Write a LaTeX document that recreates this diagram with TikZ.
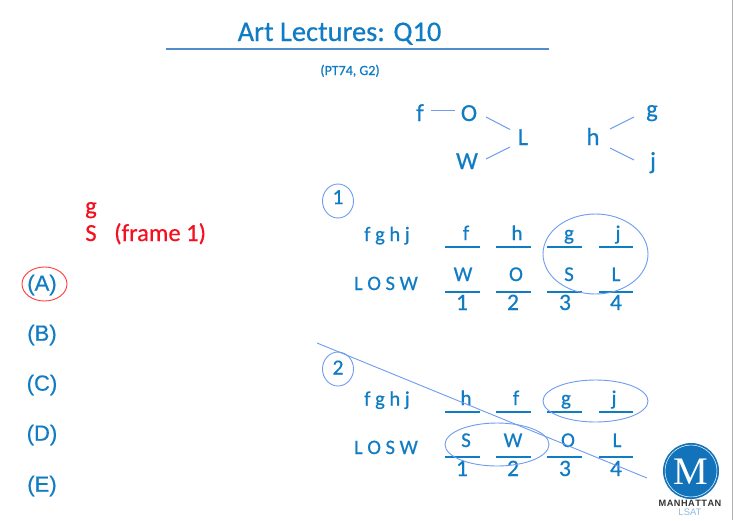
\documentclass[tikz,border=0pt]{standalone}
\usepackage{fontspec}
\setmainfont{Carlito}[RawFeature={embolden=0.5}]
\newfontfamily\arialf{Liberation Sans}[RawFeature={embolden=0.5}]
\newfontfamily\arialb{Liberation Sans}
\newfontfamily\serifl{Liberation Serif}
\definecolor{txtblue}{HTML}{0F7CC4}
\definecolor{linkblue}{HTML}{6E9CF0}
\definecolor{redtxt}{HTML}{F5101F}
\definecolor{logoblue}{HTML}{1273BA}
\definecolor{lsatblue}{HTML}{8FBCE0}
\tikzset{
  lab/.style={anchor=base,inner sep=0pt,text=txtblue,font=\fontsize{#1}{#1}\selectfont},
  lab/.default=21,
  tree/.style={anchor=base,inner sep=0pt,text=txtblue,text height=13pt,text depth=0pt,font=\fontsize{24.5}{24.5}\selectfont},
  nlab/.style={anchor=base,inner sep=0pt,text=txtblue,font=\fontsize{23.5}{23.5}\selectfont},
  roster/.style={anchor=base,inner sep=0pt,text=txtblue,font=\fontsize{20.5}{20.5}\selectfont},
  redt/.style={anchor=base,inner sep=0pt,text=redtxt,font=\fontsize{24.5}{24.5}\selectfont},
  choice/.style={anchor=center,inner sep=0pt,text=txtblue,font=\arialf\fontsize{22}{22}\selectfont},
  thin blue/.style={draw=linkblue,line width=1pt},
  blank/.style={draw=txtblue,line width=1.2pt},
  oval/.style={draw=linkblue,line width=0.9pt,fill=none}
}
\begin{document}
\begin{tikzpicture}[x=1pt,y=-1pt]
\fill[white] (0,0) rectangle (733,520);
\useasboundingbox (0,0) rectangle (733,520);
\draw[gray!60,line width=1.2pt] (732.2,0) -- (732.2,520);
% title
\node[lab=28.4] (title) at (339.5,41) {Art Lectures: Q10};
\draw[linkblue!60!txtblue!80!gray,line width=1.6pt] (166,49) -- (549,49);
\node[lab=14] (src) at (350,75) {(PT74, G2)};
% tree
\node[tree] (f) at (420,121) {f};
\node[tree] (O) at (469,121) {O};
\node[tree] (L) at (523,145) {L};
\node[tree] (W) at (467,169) {W};
\node[tree] (h) at (593,145) {h};
\node[tree] (g) at (652,117) {g};
\node[tree] (j) at (653,169) {j};
\draw[thin blue] ([shift={(11,-4.5)}]f.center) -- ([shift={(-14,-4.5)}]O.center);
\draw[thin blue] ([shift={(17,2.5)}]O.center) -- ([shift={(-13,-9)}]L.center);
\draw[thin blue] ([shift={(19,-3.5)}]W.center) -- ([shift={(-13,8.5)}]L.center);
\draw[thin blue] ([shift={(17,-9.5)}]h.center) -- ([shift={(-18,6.5)}]g.center);
\draw[thin blue] ([shift={(17,9.5)}]h.center) -- ([shift={(-19,-2.5)}]j.center);
% left
\node[redt] (rg) at (91,214) {g};
\node[redt] (rs) at (91,241) {S};
\node[redt,anchor=base west] (rf) at (114,241) {(frame 1)};
\node[choice] (A) at (42,285) {(A)};
\node[choice] (B) at (42,335) {(B)};
\node[choice] (C) at (42,385) {(C)};
\node[choice] (D) at (42,435) {(D)};
\node[choice] (E) at (42,486) {(E)};
\draw[draw=red!70!pink,line width=0.9pt] (44.5,284) ellipse [x radius=22.5,y radius=17];
% frame 1
\draw[oval] (338,201) ellipse [x radius=15.5,y radius=17];
\node[nlab,font=\fontsize{21.5}{21.5}\selectfont] (n1) at (338,204) {1};
\node[roster] (r1a) at (387,241) {f g h j};
\node[roster] (r1b) at (386,290) {L O S W};
\foreach \a/\b in {445/480,496/531,547/582,599/633}{
  \draw[blank] (\a,247) -- (\b,247);
  \draw[blank] (\a,292) -- (\b,292);
  \draw[blank] (\a,412) -- (\b,412);
  \draw[blank] (\a,457) -- (\b,457);
}
\node[lab] (a1) at (466,240) {f};
\node[lab] (a2) at (517,240) {h};
\node[lab] (a3) at (569,240) {g};
\node[lab] (a4) at (618,240) {j};
\node[lab] (b1) at (463,281) {W};
\node[lab] (b2) at (516,281) {O};
\node[lab] (b3) at (569,281) {S};
\node[lab] (b4) at (616,281) {L};
\node[nlab] (c1) at (462,310) {1};
\node[nlab] (c2) at (513,310) {2};
\node[nlab] (c3) at (565,310) {3};
\node[nlab] (c4) at (616,310) {4};
\draw[oval] (595.5,254) ellipse [x radius=52.5,y radius=40];
% frame 2
\draw[oval] (338,369) ellipse [x radius=15.5,y radius=17];
\node[nlab,font=\fontsize{21.5}{21.5}\selectfont] (n2) at (338,374.5) {2};
\node[roster] (r2a) at (387,405.5) {f g h j};
\node[roster] (r2b) at (386,454) {L O S W};
\node[lab] (d1) at (466,405) {h};
\node[lab] (d2) at (516,405) {f};
\node[lab] (d3) at (566,405) {g};
\node[lab] (d4) at (614,405) {j};
\node[lab] (e1) at (466,447) {S};
\node[lab] (e2) at (513,447) {W};
\node[lab] (e3) at (568,447) {O};
\node[lab] (e4) at (617,447) {L};
\node[nlab] (k1) at (462,476) {1};
\node[nlab] (k2) at (513,476) {2};
\node[nlab] (k3) at (565,476) {3};
\node[nlab] (k4) at (616,476) {4};
\draw[oval] (595.5,401) ellipse [x radius=52.5,y radius=21];
\draw[oval] (497,444.5) ellipse [x radius=52,y radius=21.5];
\draw[thin blue,line width=0.9pt] (317,343) -- (647,478);
% logo
\fill[logoblue] (691,471) circle (28);
\draw[white,line width=0.5pt] (691,471) circle (26);
\node[anchor=base,inner sep=0pt,text=white,font=\serifl\fontsize{39}{39}\selectfont] (M) at (691,484) {M};
\node[anchor=base,inner sep=0pt,text=black!80,font=\arialb\bfseries\fontsize{9.2}{9}\selectfont] (man) at (690,506) {M\kern.5pt A\kern.5pt N\kern.5pt H\kern.5pt A\kern.5pt T\kern.5pt T\kern.5pt A\kern.5pt N};
\node[anchor=base,inner sep=0pt,text=lsatblue,font=\arialb\fontsize{9.5}{9.5}\selectfont] (lsat) at (690,515.5) {LSAT};
\end{tikzpicture}
\end{document}
